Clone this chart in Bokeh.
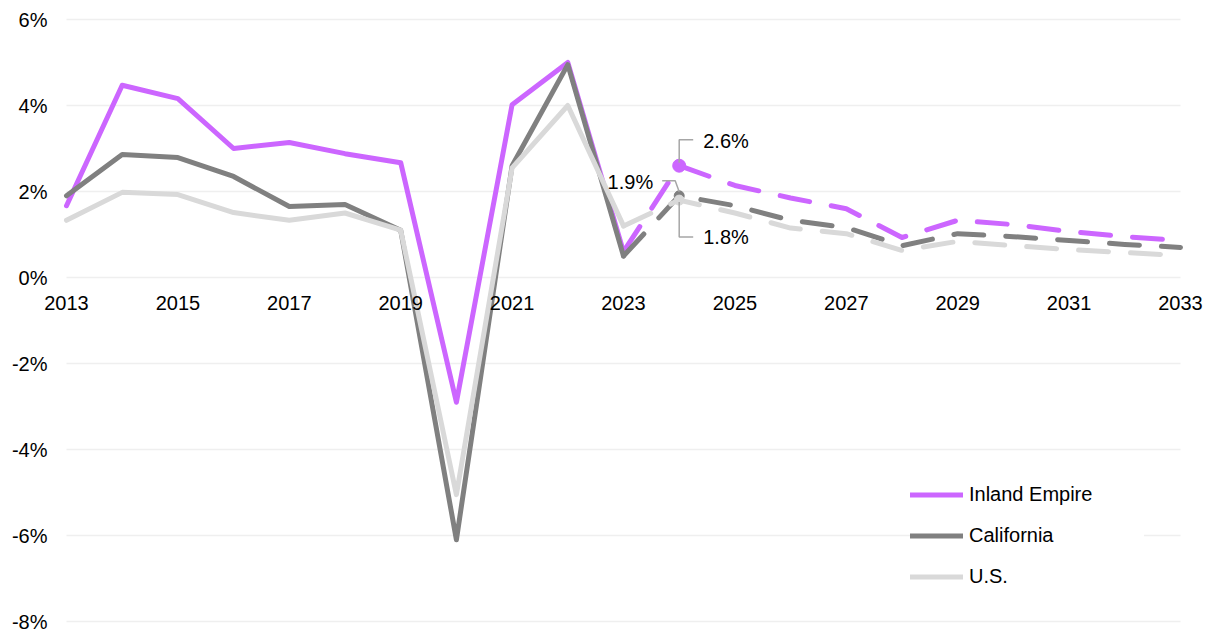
from bokeh.plotting import figure
from bokeh.models import Legend, LegendItem, Range1d, LabelSet, ColumnDataSource
from bokeh.core.properties import value
from bokeh.embed import file_html
from bokeh.resources import INLINE

years = list(range(2013, 2034))
inland_empire = [1.67, 4.47, 4.16, 3.0, 3.14, 2.88, 2.67, -2.9, 4.02, 5.0, 0.6,
                 2.6, 2.14, 1.85, 1.6, 0.93, 1.33, 1.23, 1.07, 0.95, 0.86]
california = [1.9, 2.86, 2.79, 2.35, 1.65, 1.7, 1.1, -6.1, 2.6, 4.95, 0.5,
              1.9, 1.67, 1.33, 1.16, 0.74, 1.02, 0.95, 0.86, 0.77, 0.7]
us = [1.33, 1.98, 1.93, 1.51, 1.33, 1.5, 1.1, -5.05, 2.55, 4.0, 1.2,
      1.8, 1.5, 1.15, 1.02, 0.63, 0.84, 0.74, 0.65, 0.58, 0.51]
series_names = ["Inland Empire", "California", "U.S."]
series_colors = ["#cc66ff", "#808080", "#d9d9d9"]
last_actual_year = 2023
highlight_year = 2024
x_ticks = list(range(2013, 2034, 2))
x_tick_labels = [str(y) for y in x_ticks]
y_ticks = [-8, -6, -4, -2, 0, 2, 4, 6]
y_tick_labels = ["%d%%" % t for t in y_ticks]

FONT = "Liberation Sans"
FS = "20px"
W, H = 1212, 633
X0, X1, Y0, Y1 = 2013, 2033, -8, 6
# plot area inside the canvas (pixels)
PL, PR, PT, PB = 66, 32, 19, 12
xpx = (X1 - X0) / (W - PL - PR)   # data units per pixel
ypx = (Y1 - Y0) / (H - PT - PB)

p = figure(width=W, height=H, output_backend="svg", toolbar_location=None,
           x_range=Range1d(X0 - PL * xpx, X1 + PR * xpx),
           y_range=Range1d(Y0 - PB * ypx, Y1 + PT * ypx),
           min_border=0, x_axis_type=None, y_axis_type=None)
p.outline_line_color = None
p.background_fill_color = "white"
p.border_fill_color = "white"
p.grid.visible = False

# horizontal gridlines spanning the data range
p.segment(x0=[X0] * len(y_ticks), x1=[X1] * len(y_ticks), y0=y_ticks, y1=y_ticks,
          line_color="#efefef", line_width=1.5)

# value labels at the left
yl_src = ColumnDataSource(dict(x=[X0] * len(y_ticks), y=y_ticks, t=y_tick_labels))
p.add_layout(LabelSet(x="x", y="y", text="t", source=yl_src, text_align="right",
                      text_baseline="middle", x_offset=-19, text_font=value(FONT),
                      text_font_size=FS, text_color="#000000"))
# year labels along the 0% line
xl_src = ColumnDataSource(dict(x=x_ticks, y=[0] * len(x_ticks), t=x_tick_labels))
p.add_layout(LabelSet(x="x", y="y", text="t", source=xl_src, text_align="center",
                      text_baseline="middle", y_offset=-25, text_font=value(FONT),
                      text_font_size=FS, text_color="#000000"))

idx = years.index(last_actual_year)
hi = years.index(highlight_year)
solid_renderers = []
all_vals = [inland_empire, california, us]
for name, vals, col in zip(series_names, all_vals, series_colors):
    r = p.line(years[:idx + 1], vals[:idx + 1], line_color=col, line_width=5,
               line_join="round", line_cap="round")
    p.line(years[idx:], vals[idx:], line_color=col, line_width=5, line_dash="30 22",
           line_join="round", line_cap="round")
    solid_renderers.append(r)

# markers at highlight year
sizes = [13, 10, 10]
for vals, col, s in zip(all_vals, series_colors, sizes):
    p.scatter([years[hi]], [vals[hi]], size=s, fill_color=col, line_color=col)

# leader lines (pixel offsets converted to data units)
hx = years[hi]
lc = "#a6a6a6"
ie_v = inland_empire[hi]
p.line([hx, hx, hx + 14 * xpx], [ie_v + 3 * ypx, ie_v + 26 * ypx, ie_v + 26 * ypx], line_color=lc, line_width=1.5)
ca_v = california[hi]
p.line([hx - 17 * xpx, hx - 4 * xpx, hx], [ca_v + 15 * ypx, ca_v + 15 * ypx, ca_v + 4 * ypx], line_color=lc, line_width=1.5)
us_v = us[hi]
p.line([hx, hx, hx + 14 * xpx], [us_v - 2 * ypx, us_v - 37 * ypx, us_v - 37 * ypx], line_color=lc, line_width=1.5)

labels = ["%.1f%%" % inland_empire[hi], "%.1f%%" % california[hi], "%.1f%%" % us[hi]]
p.text([hx], [ie_v], text=[labels[0]], x_offset=24, y_offset=-25, text_align="left",
       text_baseline="middle", text_font=value(FONT), text_font_size=FS, text_color="#000000")
p.text([hx], [ca_v], text=[labels[1]], x_offset=-26, y_offset=-14, text_align="right",
       text_baseline="middle", text_font=value(FONT), text_font_size=FS, text_color="#000000")
p.text([hx], [us_v], text=[labels[2]], x_offset=24, y_offset=37, text_align="left",
       text_baseline="middle", text_font=value(FONT), text_font_size=FS, text_color="#000000")

legend = Legend(items=[LegendItem(label=n, renderers=[r]) for n, r in zip(series_names, solid_renderers)],
                location=(910, 36), orientation="vertical")
legend.glyph_width = 53
legend.glyph_height = 41
legend.label_height = 41
legend.spacing = 0
legend.padding = 10
legend.margin = 0
legend.label_standoff = 6
legend.label_width = 175
legend.label_text_font = FONT
legend.label_text_font_size = FS
legend.label_text_color = "#000000"
legend.border_line_color = None
legend.background_fill_color = "white"
legend.background_fill_alpha = 1.0
p.add_layout(legend, "center")

open("out.html", "w").write(file_html(p, INLINE))
